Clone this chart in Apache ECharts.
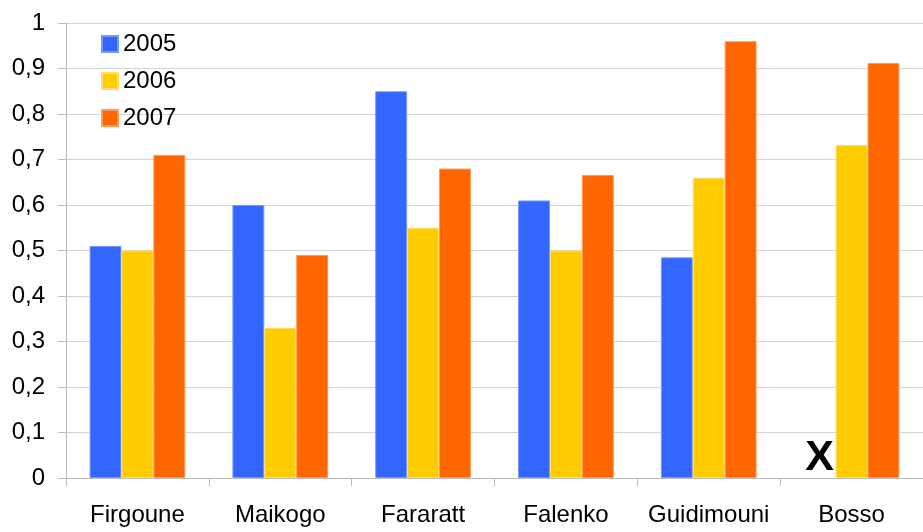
<!DOCTYPE html>
<html>
<head>
<meta charset="utf-8">
<script src="https://cdn.jsdelivr.net/npm/echarts@6/dist/echarts.min.js"></script>
<style>
    html, body { margin: 0; padding: 0; background: #fff; }
    #chart { width: 923px; height: 532px; }
</style>
</head>
<body>
<div id="chart"></div>
<script>
// [ Data ]
const sites = ['Firgoune', 'Maikogo', 'Fararatt', 'Falenko', 'Guidimouni', 'Bosso'];
const years = ['2005', '2006', '2007'];
const v2005 = [0.51, 0.60, 0.85, 0.61, 0.485, null];
const v2006 = [0.50, 0.33, 0.55, 0.50, 0.66, 0.732];
const v2007 = [0.71, 0.49, 0.68, 0.666, 0.96, 0.912];
const yTicks = [0, 0.1, 0.2, 0.3, 0.4, 0.5, 0.6, 0.7, 0.8, 0.9, 1];
const missingMark = { site: 'Bosso', text: 'X' };

const colors = ['#3366FF', '#FFCC00', '#FF6600'];
const borders = ['#7799FF', '#FFDD66', '#FF9955'];
const font = 'Liberation Sans, Arial, sans-serif';

const chart = echarts.init(document.getElementById('chart'));

const makeSeries = (name, data, i) => ({
    name: name,
    type: 'bar',
    data: data,
    barGap: '0%',
    barCategoryGap: '33%',
    itemStyle: { color: colors[i], borderColor: borders[i], borderWidth: 1 },
    emphasis: { disabled: true }
});

const series = [
    makeSeries(years[0], v2005, 0),
    makeSeries(years[1], v2006, 1),
    makeSeries(years[2], v2007, 2)
];

// the missing 2005 value in Bosso is shown with a bold X
series[0].markPoint = {
    symbol: 'rect',
    symbolSize: 0,
    silent: true,
    data: [{ coord: [missingMark.site, 0] }],
    label: {
        show: true,
        position: 'top',
        distance: -2,
        formatter: missingMark.text,
        fontFamily: font,
        fontSize: 43,
        fontWeight: 'bold',
        color: '#000'
    }
};

const options = {
    animation: false,
    grid: { left: 66, right: 0, top: 23, bottom: 54 },
    legend: {
        data: years,
        orient: 'vertical',
        left: 96,
        top: 27,
        itemWidth: 16,
        itemHeight: 16,
        itemGap: 13,
        icon: 'rect',
        textStyle: { fontFamily: font, fontSize: 24, color: '#000', lineHeight: 24 }
    },
    xAxis: {
        type: 'category',
        data: sites,
        axisLine: { lineStyle: { color: '#bbbbbb' } },
        axisTick: { show: true, interval: 0, length: 8, lineStyle: { color: '#bbbbbb' } },
        axisLabel: { interval: 0, fontFamily: font, fontSize: 24, color: '#000', margin: 25 }
    },
    yAxis: {
        type: 'value',
        min: yTicks[0],
        max: yTicks[yTicks.length - 1],
        interval: 0.1,
        axisLine: { show: true, lineStyle: { color: '#bbbbbb' } },
        axisTick: { show: true, length: 8, lineStyle: { color: '#bbbbbb' } },
        splitLine: { lineStyle: { color: '#d4d4d4', width: 1 } },
        axisLabel: {
            fontFamily: font,
            fontSize: 24,
            color: '#000',
            margin: 21,
            formatter: v => String(Math.round(v * 10) / 10).replace('.', ',')
        }
    },
    series: series
};

chart.setOption(options);
</script>
</body>
</html>
